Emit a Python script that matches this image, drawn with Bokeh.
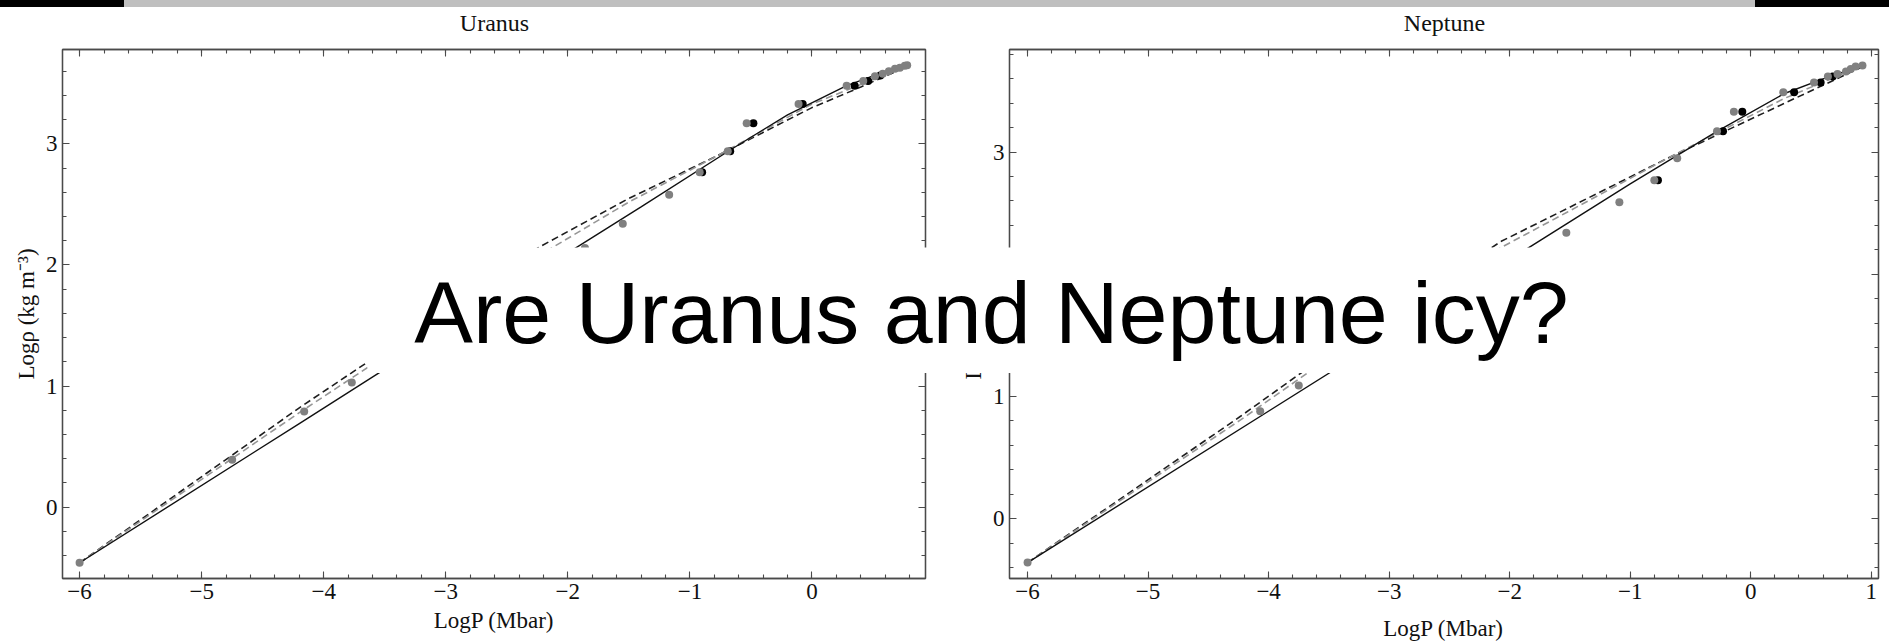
from bokeh.plotting import figure
from bokeh.models import (Range1d, SingleIntervalTicker, LinearAxis,
                          CustomJSTickFormatter, Div, Label)
from bokeh.layouts import row, column
from bokeh.embed import file_html
from bokeh.resources import INLINE

# ---------------- Uranus ----------------
uranus_gray_x = [-6.0, -4.75, -4.16, -3.77, -1.86, -1.55, -1.17, -0.92, -0.69, -0.535,
                 -0.11, 0.284, 0.42, 0.516, 0.58, 0.63, 0.68, 0.72, 0.76, 0.78]
uranus_gray_y = [-0.46, 0.39, 0.79, 1.03, 2.14, 2.34, 2.58, 2.765, 2.94, 3.17,
                 3.33, 3.48, 3.52, 3.56, 3.58, 3.60, 3.62, 3.63, 3.645, 3.65]
uranus_black_x = [-0.90, -0.67, -0.48, -0.076, 0.35, 0.46, 0.56]
uranus_black_y = [2.765, 2.94, 3.17, 3.33, 3.48, 3.52, 3.565]

uranus_solid_x = [-6.0, -4.2, -3.0, -2.0, -1.4, -0.67, -0.2, 0.28, 0.55, 0.78]
uranus_solid_y = [-0.46, 0.69, 1.46, 2.10, 2.48, 2.95, 3.24, 3.48, 3.58, 3.65]
uranus_dash_x = [-6.0, -4.2, -3.0, -2.23, -1.5, -0.78, 0.0, 0.4, 0.78]
uranus_dash_y = [-0.46, 0.82, 1.63, 2.15, 2.55, 2.90, 3.30, 3.47, 3.64]
uranus_gdash_x = [-6.0, -4.2, -3.0, -2.2, -1.5, -0.78, 0.0, 0.4, 0.78]
uranus_gdash_y = [-0.46, 0.78, 1.58, 2.10, 2.52, 2.90, 3.33, 3.49, 3.645]

# ---------------- Neptune ----------------
neptune_gray_x = [-6.0, -4.07, -3.75, -1.53, -1.09, -0.80, -0.61, -0.28, -0.14, 0.27,
                  0.525, 0.64, 0.72, 0.79, 0.83, 0.87, 0.927]
neptune_gray_y = [-0.36, 0.88, 1.09, 2.34, 2.59, 2.77, 2.95, 3.17, 3.33, 3.49,
                  3.57, 3.62, 3.64, 3.66, 3.68, 3.70, 3.71]
neptune_black_x = [-0.77, -0.23, -0.07, 0.36, 0.58, 0.68]
neptune_black_y = [2.77, 3.17, 3.33, 3.49, 3.57, 3.62]

neptune_solid_x = [-6.0, -1.0, -0.28, 0.28, 0.6, 0.93]
neptune_solid_y = [-0.36, 2.74, 3.17, 3.48, 3.60, 3.71]
neptune_dash_x = [-6.0, -4.23, -3.55, -2.07, -1.52, -0.69, 0.28, 0.93]
neptune_dash_y = [-0.36, 0.84, 1.32, 2.27, 2.54, 2.95, 3.40, 3.70]
neptune_gdash_x = [-6.0, -4.23, -3.55, -2.07, -1.52, -0.69, 0.28, 0.93]
neptune_gdash_y = [-0.36, 0.81, 1.28, 2.22, 2.51, 2.95, 3.44, 3.71]

x_label = "LogP (Mbar)"
y_label = "Logρ (kg m⁻³)"
headline = "Are Uranus and Neptune icy?"

SERIF = "Liberation Serif"
FRAME = "#4a4a4a"
GRAY_PT = "#808080"
GRAY_LINE = "#969696"
HEIGHT = 641

minus_fmt = "return tick < 0 ? '\u2212' + Math.abs(tick) : String(tick);"


def style_axis(ax, labelled, tick_gap=5, label_gap=4):
    ax.ticker = SingleIntervalTicker(interval=1, num_minor_ticks=5)
    ax.major_tick_in = 7
    ax.major_tick_out = 0
    ax.minor_tick_in = 4
    ax.minor_tick_out = 0
    ax.axis_line_color = FRAME
    ax.axis_line_width = 1.3
    ax.major_tick_line_color = FRAME
    ax.minor_tick_line_color = FRAME
    ax.major_tick_line_width = 1.1
    ax.minor_tick_line_width = 1.1
    if labelled:
        ax.formatter = CustomJSTickFormatter(code=minus_fmt)
        ax.major_label_text_font = SERIF
        ax.major_label_text_font_size = "23px"
        ax.major_label_text_color = "#111111"
        ax.major_label_standoff = tick_gap
        ax.axis_label_text_font = SERIF
        ax.axis_label_text_font_size = "23px"
        ax.axis_label_text_font_style = "normal"
        ax.axis_label_text_color = "#111111"
        ax.axis_label_standoff = label_gap
    else:
        ax.formatter = CustomJSTickFormatter(code="return '';")
        ax.major_label_standoff = 0


def panel(xr, yr, width, borders, xlab, gx, gy, bx, by, sx, sy, dx, dy, gdx, gdy):
    left, right, top, bottom = borders
    p = figure(width=width, height=HEIGHT, x_range=Range1d(*xr), y_range=Range1d(*yr),
               output_backend="svg", toolbar_location=None, title=None,
               min_border_left=left, min_border_right=right,
               min_border_top=top, min_border_bottom=bottom,
               x_axis_label=xlab, y_axis_label=y_label,
               background_fill_color="white", border_fill_color="white")
    p.grid.visible = False
    p.outline_line_color = FRAME
    p.outline_line_width = 1.3

    for ax in p.xaxis:
        style_axis(ax, True, 5, 6)
    for ax in p.yaxis:
        style_axis(ax, True, 5, 4)
    top_ax = LinearAxis()
    right_ax = LinearAxis()
    style_axis(top_ax, False)
    style_axis(right_ax, False)
    p.add_layout(top_ax, "above")
    p.add_layout(right_ax, "right")

    # model curves
    p.line(dx, dy, line_color="#1e1e1e", line_width=1.6, line_dash="7 4")
    p.line(gdx, gdy, line_color=GRAY_LINE, line_width=1.6, line_dash="7 4")
    p.line(sx, sy, line_color="#111111", line_width=1.4)
    # data points: black set sits just behind the gray set
    p.scatter(bx, by, size=8, fill_color="black", line_color=None)
    p.scatter(gx, gy, size=8, fill_color=GRAY_PT, line_color=None)
    return p


def floating_text(text, left, top, width, height, font, size, fill=None):
    """A small canvas placed at a fixed page position, holding one centred text."""
    f = figure(width=width, height=height, x_range=Range1d(0, 1), y_range=Range1d(0, 1),
               x_axis_location=None, y_axis_location=None, title=None,
               output_backend="svg", toolbar_location=None, min_border=0,
               outline_line_color=None)
    if fill is None:
        f.background_fill_alpha = 0
        f.border_fill_alpha = 0
    else:
        f.background_fill_color = fill
        f.border_fill_color = fill
    f.grid.visible = False
    f.add_layout(Label(x=0.5, y=0.5, text=text, text_align="center",
                       text_baseline="middle", text_font=font,
                       text_font_size=size, text_color="#111111"))
    f.margin = 0
    f.styles = {"position": "absolute", "left": f"{left}px", "top": f"{top}px",
                "z-index": "10"}
    return f


p_u = panel((-6.14, 0.93), (-0.59, 3.78), 945, (62, 20, 46, 63), x_label,
            uranus_gray_x, uranus_gray_y, uranus_black_x, uranus_black_y,
            uranus_solid_x, uranus_solid_y, uranus_dash_x, uranus_dash_y,
            uranus_gdash_x, uranus_gdash_y)
# Neptune's x label sits right at the page bottom, so it is placed on its own
p_n = panel((-6.15, 1.06), (-0.49, 3.84), 944, (64, 11, 49, 57), None,
            neptune_gray_x, neptune_gray_y, neptune_black_x, neptune_black_y,
            neptune_solid_x, neptune_solid_y, neptune_dash_x, neptune_dash_y,
            neptune_gdash_x, neptune_gdash_y)

# panel headings and the Neptune x label
t_u = floating_text("Uranus", 374, 8, 240, 28, SERIF, "24px")
t_n = floating_text("Neptune", 1324, 8, 240, 28, SERIF, "24px")
xl_n = floating_text(x_label, 1323, 614, 240, 27, SERIF, "23px")

# slide header strip along the top edge
strip = row(
    Div(width=124, height=7, margin=0, styles={"background-color": "#000000"}),
    Div(width=1631, height=7, margin=0, styles={"background-color": "#bfbfbf"}),
    Div(width=134, height=7, margin=0, styles={"background-color": "#000000"}),
)
strip.margin = 0
strip.styles = {"position": "absolute", "left": "0px", "top": "0px", "z-index": "10"}

# headline box laid over both panels (white box, text centred a touch above middle)
ov = figure(width=1248, height=126, x_range=Range1d(0, 1), y_range=Range1d(0, 1),
            x_axis_location=None, y_axis_location=None, title=None,
            output_backend="svg", toolbar_location=None, min_border=0,
            outline_line_color=None, background_fill_color="white",
            border_fill_color="white")
ov.grid.visible = False
ov.add_layout(Label(x=0.5, y=0.484, text=headline, text_align="center",
                    text_baseline="middle", text_font="Liberation Sans",
                    text_font_size="88px", text_color="black"))
ov.margin = 0
ov.styles = {"position": "absolute", "left": "367px", "top": "247px", "z-index": "10"}

layout = column(row(p_u, p_n), t_u, t_n, xl_n, strip, ov)

open("out.html", "w").write(file_html(layout, INLINE))
